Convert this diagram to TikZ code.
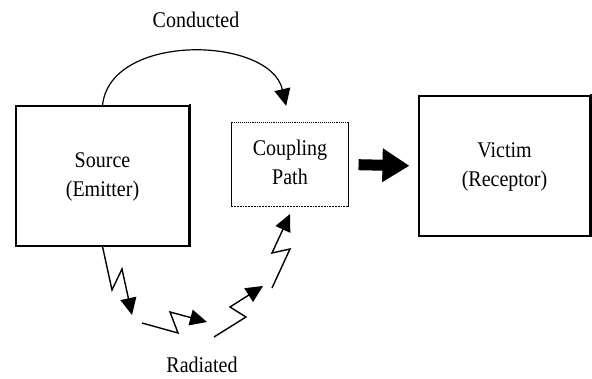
\documentclass[tikz,border=0pt]{standalone}
\usepackage{fontspec}
\setmainfont{Liberation Serif}
\usetikzlibrary{arrows.meta}
\newcommand\talltext[1]{\scalebox{1}[1.12]{\setlength{\tabcolsep}{0pt}\begin{tabular}{c}#1\end{tabular}}}
\tikzset{
  box/.style={draw=black, line width=1.1pt, align=center, inner sep=0pt,
    font=\fontsize{20}{26}\selectfont},
  lbl/.style={font=\fontsize{20}{24}\selectfont, inner sep=0pt},
  bigtip/.style={-{Triangle[length=17pt,width=16pt]}},
  zig/.style={line width=1.4pt, bigtip},
  shade/.style={line width=1.9pt, line cap=rect}
}
\begin{document}
\begin{tikzpicture}[x=1pt,y=1pt]
\useasboundingbox (0,0) rectangle (592,379);
% boxes
\node[box, minimum width=173pt, minimum height=140pt] (src) at (102.5,203) {\talltext{Source\\(Emitter)}};
\node[box, draw=none, minimum width=116pt, minimum height=83pt] (cp) at (290,214.5) {\talltext{Coupling\\Path}};
\node[box, minimum width=171pt, minimum height=140pt] (vi) at (504.5,213) {\talltext{Victim\\(Receptor)}};
% shadow edges
\draw[shade] (src.north east) -- (src.south east) -- (src.south west);
\draw[shade] (vi.north east) -- (vi.south east) -- (vi.south west);
% coupling box edges
\draw[line width=0.8pt] (cp.north west) -- (cp.south west);
\draw[line width=1.6pt] (cp.north east) -- (cp.south east);
\draw[line width=1.1pt, densely dotted] (cp.north west) -- (cp.north east);
\draw[line width=1.8pt, densely dotted] (cp.south west) -- (cp.south east);
% labels
\node[lbl] (cond) at (196,357) {\talltext{Conducted}};
\node[lbl] (rad) at (202,12) {\talltext{Radiated}};
% conducted arc
\draw[line width=1.2pt, bigtip, shorten >=17pt] (src.north) .. controls (110,347) and (270,343) .. (cp.north);
% thick arrow
\draw[line width=11pt, -{Triangle[length=27pt,width=32pt]}, shorten <=10pt, shorten >=9pt] (cp.east) -- (vi.west);
% radiated zigzags
\coordinate (a1m) at (112,89);
\coordinate (a1n) at (122,110);
\coordinate (a1e) at (132,64);
\coordinate (a2s) at (142,56);
\coordinate (a2m) at (178,46);
\coordinate (a2n) at (170,67);
\coordinate (a2e) at (207,57);
\coordinate (a3s) at (214,42);
\coordinate (a3m) at (246,62);
\coordinate (a3n) at (230,72);
\coordinate (a3e) at (263,93);
\coordinate (a4s) at (272,91);
\coordinate (a4m) at (290,130);
\coordinate (a4n) at (272,126);
\coordinate (a4e) at (290,165);
\draw[zig] (src.south) -- (a1m) -- (a1n) -- (a1e);
\draw[zig] (a2s) -- (a2m) -- (a2n) -- (a2e);
\draw[zig] (a3s) -- (a3m) -- (a3n) -- (a3e);
\draw[zig] (a4s) -- (a4m) -- (a4n) -- (a4e);
\end{tikzpicture}
\end{document}
